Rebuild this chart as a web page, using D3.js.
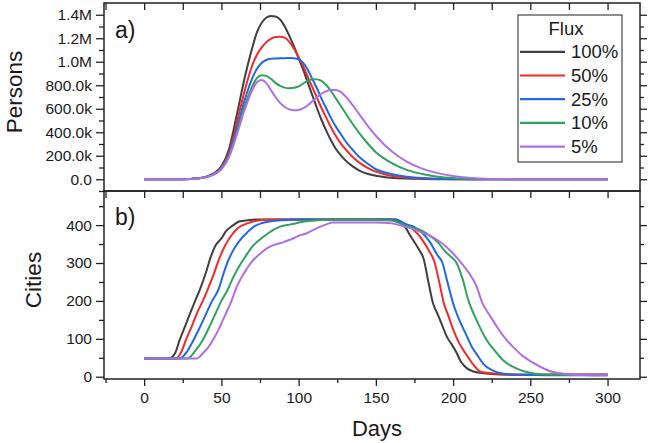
<!DOCTYPE html>
<html><head><meta charset="utf-8">
<script src="https://cdn.jsdelivr.net/npm/d3@7"></script>
<style>
body{margin:0;background:#fff}
svg{display:block}
text{font-family:"Liberation Sans",Arial,sans-serif;fill:#1a1a1a}
</style>
</head><body>
<svg id="chart" width="650" height="443"></svg>
<script>
// ---------------- DATA ----------------
const fluxLabels = ["100%", "50%", "25%", "10%", "5%"];
const seriesColors = ["#3f3f3f", "#f22a2a", "#1f68e6", "#2fa25e", "#b06ee6"];

// Panel a) Persons (millions) vs Days
const daysTop = [0,20,30,35,40,45,50,55,60,65,70,73,76,79,82,85,88,91,94,97,100,103,106,109,112,115,118,121,124,127,130,135,140,145,150,155,160,170,180,190,200,210,220,240,260,300];
const persons100 = [0,0,0.003,0.008,0.02,0.05,0.11,0.26,0.55,0.86,1.12,1.25,1.33,1.375,1.39,1.385,1.36,1.30,1.22,1.13,1.03,0.93,0.82,0.71,0.60,0.50,0.41,0.33,0.26,0.21,0.165,0.11,0.07,0.045,0.03,0.02,0.013,0.006,0.003,0.001,0,0,0,0,0,0];
const persons50  = [0,0,0.003,0.008,0.02,0.048,0.10,0.23,0.48,0.75,0.97,1.06,1.12,1.165,1.195,1.21,1.213,1.205,1.17,1.11,1.04,0.96,0.87,0.78,0.69,0.60,0.52,0.44,0.37,0.31,0.26,0.19,0.135,0.095,0.065,0.045,0.03,0.014,0.006,0.002,0.001,0,0,0,0,0];
const persons25  = [0,0,0.003,0.008,0.019,0.045,0.095,0.21,0.43,0.67,0.86,0.94,0.99,1.015,1.025,1.028,1.03,1.03,1.032,1.03,1.02,0.99,0.93,0.85,0.77,0.68,0.60,0.52,0.45,0.39,0.33,0.25,0.18,0.13,0.085,0.062,0.045,0.022,0.01,0.004,0.002,0.001,0,0,0,0];
const persons10  = [0,0,0.003,0.008,0.018,0.042,0.09,0.20,0.40,0.62,0.79,0.86,0.885,0.88,0.855,0.82,0.795,0.78,0.775,0.778,0.79,0.815,0.84,0.852,0.85,0.835,0.80,0.75,0.69,0.63,0.57,0.47,0.38,0.30,0.23,0.18,0.14,0.08,0.045,0.022,0.01,0.004,0.002,0,0,0];
const persons5   = [0,0,0.003,0.007,0.017,0.04,0.085,0.19,0.38,0.59,0.76,0.825,0.845,0.82,0.76,0.70,0.65,0.615,0.595,0.588,0.59,0.605,0.63,0.665,0.70,0.73,0.75,0.76,0.76,0.745,0.71,0.63,0.54,0.45,0.37,0.30,0.24,0.15,0.09,0.052,0.027,0.012,0.005,0.001,0,0];

const personsTickValues = [0,0.2,0.4,0.6,0.8,1.0,1.2,1.4];
const personsTickLabels = ["0.0","200.0k","400.0k","600.0k","800.0k","1.0M","1.2M","1.4M"];

// Panel b) Cities vs Days
const daysCities100 = [0,16,20,23,26,30,33,36,40,43,46,50,53,57,62,67,72,80,100,130,160,163,166,169,172,175,178,181,184,187,190,193,196,199,202,205,209,214,220,230,250,280,300];
const cities100     = [48,48,62,97,128,170,200,229,275,315,345,365,384,398,410,413,415,415,415,415,415,412,405,395,374,355,335,310,250,194,165,135,105,86,65,40,22,13,9,6,5,6,6];
const daysCities50  = [0,20,24,27,31,35,38,41,45,48,52,56,60,64,70,78,90,130,163,166,169,172,175,178,181,184,188,191,194,197,200,204,208,212,218,225,235,250,280,300];
const cities50      = [48,48,65,97,135,175,200,229,270,305,343,370,390,400,409,414,415,415,415,410,402,395,385,372,355,335,302,250,194,160,125,88,62,38,13,9,6,5,5,5];
const daysCities25  = [0,23,28,32,36,40,44,48,52,55,59,63,67,71,76,82,90,100,130,163,166,170,175,180,185,190,193,196,200,204,208,212,216,220,225,230,235,245,260,300];
const cities25      = [48,48,68,97,130,165,200,229,280,312,343,365,382,396,405,410,413,415,415,415,410,402,395,380,355,320,302,255,194,150,115,80,55,32,18,10,7,5,4,4];
const daysCities10  = [0,28,33,38,42,46,50,54,58,62,66,70,75,80,88,95,105,120,140,160,165,170,175,180,185,190,195,199,202,206,210,214,218,222,227,232,237,241,247,253,264,300];
const cities10      = [48,48,68,97,130,165,200,229,265,295,320,343,362,378,396,402,410,414,414,412,406,398,392,385,372,355,330,315,302,260,200,160,125,95,69,45,30,22,13,8,5,4];
const daysCities5   = [0,34,38,42,45,48,51,54,57,60,63,66,70,73,76,80,84,88,92,96,100,105,110,114,118,122,130,150,160,165,170,175,180,185,190,195,200,205,210,215,219,224,229,234,239,245,250,257,264,270,278,290,300];
const cities5       = [48,48,62,80,100,123,150,176,205,238,262,282,305,317,328,340,348,352,358,364,372,378,388,396,402,407,407,407,405,400,395,388,380,372,360,345,325,302,275,240,194,160,128,100,78,55,41,25,13,9,5,4,4];

const citiesTickValues = [0,100,200,300,400];
const citiesMinorValues = [50,150,250,350,450];
const dayTickValues = [0,50,100,150,200,250,300];
const dayMinorValues = [-25,25,75,125,175,225,275];

// ---------------- LAYOUT ----------------
const svg = d3.select("#chart");
const L = 104, R = 640, T = 3, M = 191, B = 379;

const x = d3.scaleLinear().domain([-26, 321]).range([L, R]);
const yTop = d3.scaleLinear().domain([-0.1, 1.5]).range([M, T]);
const yBot = d3.scaleLinear().domain([-6, 490]).range([B, M]);

const topSeries = [persons100, persons50, persons25, persons10, persons5];
const botDays = [daysCities100, daysCities50, daysCities25, daysCities10, daysCities5];
const botSeries = [cities100, cities50, cities25, cities10, cities5];

const defs = svg.append("defs");
defs.append("clipPath").attr("id","clipTop").append("rect").attr("x",L).attr("y",T).attr("width",R-L).attr("height",M-T);
defs.append("clipPath").attr("id","clipBot").append("rect").attr("x",L).attr("y",M).attr("width",R-L).attr("height",B-M);

// curves
const lineTop = d3.line().x(d=>x(d[0])).y(d=>yTop(d[1])).curve(d3.curveMonotoneX);
const lineBot = d3.line().x(d=>x(d[0])).y(d=>yBot(d[1])).curve(d3.curveMonotoneX);

const gTop = svg.append("g").attr("clip-path","url(#clipTop)");
topSeries.forEach((vals,i)=>{
  gTop.append("path").datum(daysTop.map((d,j)=>[d, vals[j]]))
    .attr("d", lineTop).attr("fill","none").attr("stroke",seriesColors[i]).attr("stroke-width",2);
});
const gBot = svg.append("g").attr("clip-path","url(#clipBot)");
botSeries.forEach((vals,i)=>{
  gBot.append("path").datum(botDays[i].map((d,j)=>[d, vals[j]]))
    .attr("d", lineBot).attr("fill","none").attr("stroke",seriesColors[i]).attr("stroke-width",2);
});

// ---------------- AXES ----------------
function styleAxis(g){
  g.select(".domain").remove();
  g.selectAll(".tick line").attr("stroke","#222").attr("stroke-width",1.3);
  g.selectAll(".tick text").attr("font-size","15.5px").attr("fill","#1a1a1a")
    .attr("font-family","Liberation Sans, Arial, sans-serif");
}
// Top panel left
svg.append("g").attr("transform",`translate(${L},0)`)
  .call(d3.axisLeft(yTop).tickValues(personsTickValues).tickFormat((d,i)=>personsTickLabels[i]).tickSize(8).tickPadding(4)).call(styleAxis);
svg.append("g").attr("transform",`translate(${L},0)`)
  .call(d3.axisLeft(yTop).tickValues([-0.1,0.1,0.3,0.5,0.7,0.9,1.1,1.3]).tickFormat("").tickSize(5)).call(styleAxis);
// Top panel right
svg.append("g").attr("transform",`translate(${R},0)`)
  .call(d3.axisRight(yTop).tickValues(personsTickValues).tickFormat("").tickSize(7)).call(styleAxis);
svg.append("g").attr("transform",`translate(${R},0)`)
  .call(d3.axisRight(yTop).tickValues([0.1,0.3,0.5,0.7,0.9,1.1,1.3]).tickFormat("").tickSize(4)).call(styleAxis);
// Bottom panel left
svg.append("g").attr("transform",`translate(${L},0)`)
  .call(d3.axisLeft(yBot).tickValues(citiesTickValues).tickFormat(d3.format("d")).tickSize(8).tickPadding(4)).call(styleAxis);
svg.append("g").attr("transform",`translate(${L},0)`)
  .call(d3.axisLeft(yBot).tickValues(citiesMinorValues).tickFormat("").tickSize(5)).call(styleAxis);
// Bottom panel right
svg.append("g").attr("transform",`translate(${R},0)`)
  .call(d3.axisRight(yBot).tickValues(citiesTickValues).tickFormat("").tickSize(7)).call(styleAxis);
svg.append("g").attr("transform",`translate(${R},0)`)
  .call(d3.axisRight(yBot).tickValues(citiesMinorValues).tickFormat("").tickSize(4)).call(styleAxis);
// X bottom
svg.append("g").attr("transform",`translate(0,${B})`)
  .call(d3.axisBottom(x).tickValues(dayTickValues).tickFormat(d3.format("d")).tickSize(7).tickPadding(6)).call(styleAxis);
svg.append("g").attr("transform",`translate(0,${B})`)
  .call(d3.axisBottom(x).tickValues(dayMinorValues).tickFormat("").tickSize(4)).call(styleAxis);
// X top of panel a (inward) and divider (inward into panel b)
[T, M].forEach(yy=>{
  svg.append("g").attr("transform",`translate(0,${yy})`)
    .call(d3.axisBottom(x).tickValues(dayTickValues.concat(dayMinorValues)).tickFormat("").tickSize(7)).call(styleAxis);
});

// frames
svg.append("rect").attr("x",L).attr("y",T).attr("width",R-L).attr("height",M-T).attr("fill","none").attr("stroke","#222").attr("stroke-width",1.5);
svg.append("rect").attr("x",L).attr("y",M).attr("width",R-L).attr("height",B-M).attr("fill","none").attr("stroke","#222").attr("stroke-width",1.5);

// axis titles
svg.append("text").attr("transform","translate(21.5,92) rotate(-90)").attr("text-anchor","middle").attr("font-size","22.5px").text("Persons");
svg.append("text").attr("transform","translate(41,280) rotate(-90)").attr("text-anchor","middle").attr("font-size","22.5px").text("Cities");
svg.append("text").attr("x",377).attr("y",436).attr("text-anchor","middle").attr("font-size","22px").text("Days");

// panel labels
svg.append("text").attr("x",115).attr("y",38).attr("font-size","23px").text("a)");
svg.append("text").attr("x",115).attr("y",225).attr("font-size","23px").text("b)");

// legend
const lg = svg.append("g");
lg.append("rect").attr("x",518).attr("y",15).attr("width",104).attr("height",147).attr("fill","#fff").attr("stroke","#444").attr("stroke-width",1.2);
lg.append("text").attr("x",566).attr("y",35).attr("text-anchor","middle").attr("font-size","18.5px").text("Flux");
fluxLabels.forEach((lab,i)=>{
  const yy = 58.3 + i*23.7;
  lg.append("line").attr("x1",520).attr("x2",565).attr("y1",yy-6.5).attr("y2",yy-6.5).attr("stroke",seriesColors[i]).attr("stroke-width",2.2);
  lg.append("text").attr("x",571).attr("y",yy).attr("font-size","18.5px").text(lab);
});
</script>
</body></html>
